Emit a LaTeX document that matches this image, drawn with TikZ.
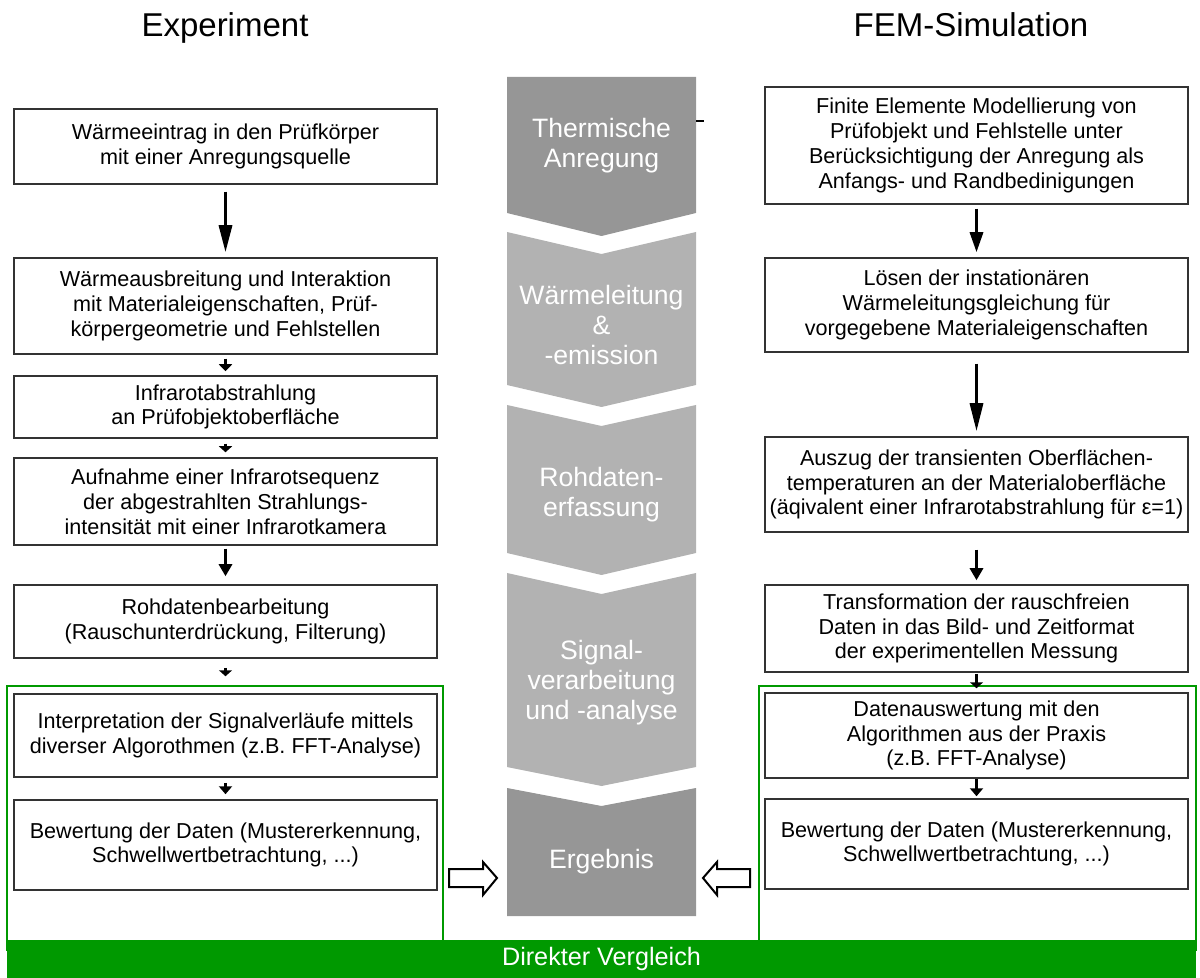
\documentclass[tikz,border=0pt]{standalone}
\usepackage{fontspec}
\setmainfont{Liberation Sans}
\usetikzlibrary{arrows.meta}

\definecolor{chevdark}{RGB}{150,150,150}
\definecolor{chevlight}{RGB}{178,178,178}
\definecolor{vgreen}{RGB}{0,153,0}

\tikzset{
  box/.style={draw=black!80, line width=0.75pt, fill=white, minimum width=211.5pt,
    align=center, inner sep=0pt, font=\fontsize{10.8}{12.4}\selectfont},
  stage/.style={text=white, align=center, font=\fontsize{13.3}{15}\selectfont},
  flow/.style={line width=1.6pt, -{Triangle[width=6.5pt,length=#1]}},
  flow/.default=13.5pt,
  coltitle/.style={font=\fontsize{16.5}{20}\selectfont, anchor=base},
  hollow/.style={draw=black, line width=1pt, fill=white},
}

\begin{document}
\begin{tikzpicture}[x=0.5pt, y=-0.5pt]
        \useasboundingbox (0,0) rectangle (1200,978);

        \node[coltitle] (exp) at (225,37) {Experiment};
        \node[coltitle] (fem) at (971,37) {FEM-Simulation};

        % Stufen in der Mitte
        \fill[chevdark] (507,77) -- (696,77) -- (696,213) -- (601.5,236) -- (507,213) -- cycle;
        \fill[chevlight] (507,232) -- (601.5,254) -- (696,232) -- (696,385) -- (601.5,407) -- (507,385) -- cycle;
        \fill[chevlight] (507,405) -- (601.5,426) -- (696,405) -- (696,553) -- (601.5,575) -- (507,553) -- cycle;
        \fill[chevlight] (507,573) -- (601.5,594) -- (696,573) -- (696,767) -- (601.5,786) -- (507,767) -- cycle;
        \fill[chevdark] (507,788) -- (601.5,806) -- (696,788) -- (696,916) -- (507,916) -- cycle;
        \draw[line width=0.6pt] (696,121) -- (704,121);

        \node[stage] (anregung) at (601.5,146) {Thermische\\Anregung};
        \node[stage] (leitung) at (601.5,325) {Wärmeleitung\\\&\\-emission};
        \node[stage] (erfassung) at (601.5,495) {Rohdaten-\\erfassung};
        \node[stage] (analyse) at (601.5,683) {Signal-\\verarbeitung\\und -analyse};
        \node[stage] (ergebnis) at (601.5,862) {Ergebnis};

        % Vergleichsbereiche
        \draw[vgreen, line width=1pt] (7,686) rectangle (443,950);
        \draw[vgreen, line width=1pt] (759,686) rectangle (1196,950);
        \node[fill=vgreen, minimum width=594.5pt, minimum height=19pt, inner sep=0pt,
          text=white, font=\fontsize{12.6}{15}\selectfont] (vergleich) at (601.5,959) {Direkter Vergleich};

        % Experiment
        \node[box, minimum height=37.5pt] (L1) at (225.5,146.5) {Wärmeeintrag in den Prüfkörper\\mit einer Anregungsquelle};
        \node[box, minimum height=48pt] (L2) at (225.5,306) {Wärmeausbreitung und Interaktion\\mit Materialeigenschaften, Prüf-\\körpergeometrie und Fehlstellen};
        \node[box, minimum height=31pt] (L3) at (225.5,407) {Infrarotabstrahlung\\an Prüfobjektoberfläche};
        \node[box, minimum height=43.5pt] (L4) at (225.5,501.5) {Aufnahme einer Infrarotsequenz\\der abgestrahlten Strahlungs-\\intensität mit einer Infrarotkamera};
        \node[box, minimum height=36.5pt] (L5) at (225.5,621.5) {Rohdatenbearbeitung\\(Rauschunterdrückung, Filterung)};
        \node[box, minimum height=41.5pt] (L6) at (225.5,735.5) {Interpretation der Signalverläufe mittels\\diverser Algorothmen (z.B. FFT-Analyse)};
        \node[box, minimum height=45pt] (L7) at (225.5,845) {Bewertung der Daten (Mustererkennung,\\Schwellwertbetrachtung, ...)};

        % FEM-Simulation
        \node[box, minimum height=58.5pt] (R1) at (976.5,145.5) {Finite Elemente Modellierung von\\Prüfobjekt und Fehlstelle unter\\Berücksichtigung der Anregung als\\Anfangs- und Randbedinigungen};
        \node[box, minimum height=47pt] (R2) at (976.5,305) {Lösen der instationären\\Wärmeleitungsgleichung für\\vorgegebene Materialeigenschaften};
        \node[box, minimum height=47.5pt] (R3) at (976.5,484.5) {Auszug der transienten Oberflächen-\\temperaturen an der Materialoberfläche\\(äqivalent einer Infrarotabstrahlung für ε=1)};
        \node[box, minimum height=43.5pt] (R4) at (976.5,628.5) {Transformation der rauschfreien\\Daten in das Bild- und Zeitformat\\der experimentellen Messung};
        \node[box, minimum height=42.5pt] (R5) at (976.5,735.5) {Datenauswertung mit den\\Algorithmen aus der Praxis\\(z.B. FFT-Analyse)};
        \node[box, minimum height=45pt] (R6) at (976.5,844) {Bewertung der Daten (Mustererkennung,\\Schwellwertbetrachtung, ...)};

        \draw[flow, shorten <=3.5pt, shorten >=2.5pt] (L1) -- (L2);
        \draw[flow=3.5pt, shorten <=2pt, shorten >=2pt] (L2) -- (L3);
        \draw[flow=3pt, shorten <=2.5pt, shorten >=2.5pt] (L3) -- (L4);
        \draw[flow=6pt, shorten <=1.5pt, shorten >=4pt] (L4) -- (L5);
        \draw[flow=3pt, shorten <=4.5pt, shorten >=8.5pt] (L5) -- (L6);
        \draw[flow=4pt, shorten <=2.5pt, shorten >=2.5pt] (L6) -- (L7);

        \draw[flow=10pt, shorten <=2pt, shorten >=2.5pt] (R1) -- (R2);
        \draw[flow=14pt, shorten <=5.5pt, shorten >=2.5pt] (R2) -- (R3);
        \draw[flow=6pt, shorten <=8.5pt, shorten >=2pt] (R3) -- (R4);
        \draw[flow=3pt, shorten <=0.5pt, shorten >=2pt] (R4) -- (R5);
        \draw[flow=4pt, shorten >=1pt] (R5) -- (R6);

        % Pfeile zum Ergebnis
        \draw[hollow] (449,869) -- (483,869) -- (483,862) -- (497,878) -- (483,895) -- (483,887) -- (449,887) -- cycle;
        \draw[hollow] (750,869) -- (717,869) -- (717,862) -- (703,878) -- (717,895) -- (717,887) -- (750,887) -- cycle;
\end{tikzpicture}
\end{document}
